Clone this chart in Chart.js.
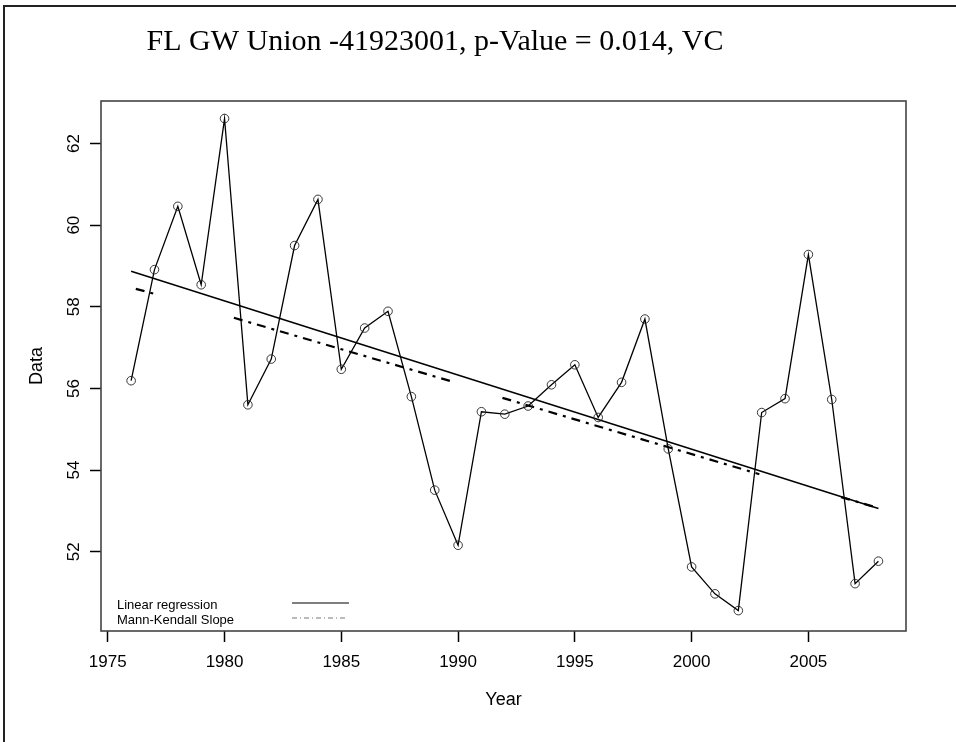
<!DOCTYPE html>
<html>
<head>
<meta charset="utf-8">
<script src="https://cdn.jsdelivr.net/npm/chart.js@4.4.1/dist/chart.umd.min.js"></script>
<style>
  html, body { margin: 0; padding: 0; background: #fff; }
  canvas { display: block; }
</style>
</head>
<body>
<canvas id="trendChart" width="956" height="742"></canvas>
<script>
// Yearly values
const years = [1976, 1977, 1978, 1979, 1980, 1981, 1982, 1983, 1984, 1985, 1986,
    1987, 1988, 1989, 1990, 1991, 1992, 1993, 1994, 1995, 1996, 1997, 1998,
    1999, 2000, 2001, 2002, 2003, 2004, 2005, 2006, 2007, 2008];
const values = [56.19, 58.91, 60.46, 58.54, 62.61, 55.60, 56.72, 59.50, 60.63,
    56.47, 57.48, 57.89, 55.80, 53.51, 52.16, 55.43, 55.37, 55.57, 56.09, 56.58,
    55.29, 56.15, 57.70, 54.52, 51.63, 50.97, 50.56, 55.41, 55.75, 59.28, 55.73,
    51.22, 51.77];

// Linear regression line (end points)
const regYears = [1976, 2008];
const regValues = [58.87, 53.06];

// Mann-Kendall slope line, with the breaks seen in the picture
const mkYears = [1976.2, 1977.05, 1978, 1980.4, 1989.8, 1991, 1991.9, 2002.9, 2005, 2006.4, 2008];
const mkValues = [58.44, 58.31, null, 57.73, 56.16, null, 55.77, 53.90, null, 53.34, 53.07];

const titleText = "FL GW Union -41923001, p-Value = 0.014, VC";
const legendLabels = ["Linear regression", "Mann-Kendall Slope"];

function toPoints(xs, ys) {
    return xs.map(function (x, i) {
        return { x: x, y: ys[i] };
    });
}

Chart.defaults.font.family = "'Liberation Sans', Arial, sans-serif";
Chart.defaults.color = "#000";

// frame, plot box, title and legend
const framePlugin = {
    id: "frame",
    beforeDraw(chart) {
        const ctx = chart.ctx;
        ctx.save();
        ctx.fillStyle = "#fff";
        ctx.fillRect(0, 0, chart.width, chart.height);
        ctx.restore();
    },
    afterDraw(chart) {
        const ctx = chart.ctx;
        const a = chart.chartArea;
        ctx.save();

        // outer frame (left and top edges are visible)
        ctx.strokeStyle = "#222";
        ctx.lineWidth = 2;
        ctx.beginPath();
        ctx.moveTo(4, chart.height);
        ctx.lineTo(4, 6);
        ctx.lineTo(chart.width, 6);
        ctx.stroke();

        // plot box
        ctx.strokeStyle = "#444";
        ctx.lineWidth = 1.6;
        ctx.strokeRect(a.left, a.top, a.right - a.left, a.bottom - a.top);

        // title
        ctx.fillStyle = "#000";
        ctx.font = "30px 'Liberation Serif', 'Times New Roman', serif";
        ctx.textAlign = "center";
        ctx.textBaseline = "middle";
        ctx.fillText(titleText, 435, 42);

        // legend
        ctx.font = "13px 'Liberation Sans', Arial, sans-serif";
        ctx.textAlign = "left";
        ctx.fillText(legendLabels[0], a.left + 16, a.bottom - 26);
        ctx.fillText(legendLabels[1], a.left + 16, a.bottom - 11);

        ctx.strokeStyle = "#555";
        ctx.lineWidth = 1.5;
        ctx.beginPath();
        ctx.moveTo(a.left + 191, a.bottom - 28);
        ctx.lineTo(a.left + 248, a.bottom - 28);
        ctx.stroke();

        ctx.strokeStyle = "#777";
        ctx.lineWidth = 1;
        ctx.setLineDash([5, 3, 1, 3]);
        ctx.beginPath();
        ctx.moveTo(a.left + 191, a.bottom - 13);
        ctx.lineTo(a.left + 246, a.bottom - 13);
        ctx.stroke();

        ctx.restore();
    },
};

const ctx = document.getElementById("trendChart").getContext("2d");
new Chart(ctx, {
    type: "line",
    data: {
        datasets: [
            {
                label: "Data",
                data: toPoints(years, values),
                borderColor: "#000",
                borderWidth: 1.3,
                pointStyle: "circle",
                pointRadius: 4.3,
                pointBorderWidth: 0.9,
                pointBorderColor: "#222",
                pointBackgroundColor: "rgba(0,0,0,0)",
                fill: false,
                tension: 0,
            },
            {
                label: legendLabels[0],
                data: toPoints(regYears, regValues),
                borderColor: "#000",
                borderWidth: 1.5,
                pointRadius: 0,
                fill: false,
            },
            {
                label: legendLabels[1],
                data: toPoints(mkYears, mkValues),
                borderColor: "#000",
                borderWidth: 2.2,
                borderDash: [9, 6, 3, 6],
                pointRadius: 0,
                spanGaps: false,
                fill: false,
            },
        ],
    },
    options: {
        responsive: false,
        animation: false,
        devicePixelRatio: 1,
        layout: {
            padding: { top: 101, right: 50, bottom: 0, left: 0 },
        },
        plugins: {
            legend: { display: false },
            title: { display: false },
            tooltip: { enabled: false },
        },
        scales: {
            x: {
                type: "linear",
                min: 1974.71,
                max: 2009.18,
                afterFit: function (scale) {
                    scale.height = 111;
                },
                border: { display: false },
                grid: {
                    drawOnChartArea: false,
                    drawTicks: true,
                    tickLength: 11,
                    tickColor: "#000",
                    tickWidth: 1.5,
                },
                ticks: {
                    stepSize: 5,
                    includeBounds: false,
                    maxRotation: 0,
                    padding: 10,
                    font: { size: 17 },
                    callback: function (value) {
                        return String(value);
                    },
                },
                title: {
                    display: true,
                    text: "Year",
                    font: { size: 18 },
                    padding: { top: 0, bottom: 31 },
                },
            },
            y: {
                type: "linear",
                min: 50.06,
                max: 63.04,
                afterFit: function (scale) {
                    scale.width = 101;
                },
                border: { display: false },
                grid: {
                    drawOnChartArea: false,
                    drawTicks: true,
                    tickLength: 11,
                    tickColor: "#000",
                    tickWidth: 1.5,
                },
                ticks: {
                    stepSize: 2,
                    includeBounds: false,
                    minRotation: 90,
                    maxRotation: 90,
                    crossAlign: "center",
                    padding: 6,
                    font: { size: 17 },
                },
                title: {
                    display: true,
                    text: "Data",
                    font: { size: 18 },
                    padding: { top: 26, bottom: 0 },
                },
            },
        },
    },
    plugins: [framePlugin],
});
</script>
</body>
</html>
